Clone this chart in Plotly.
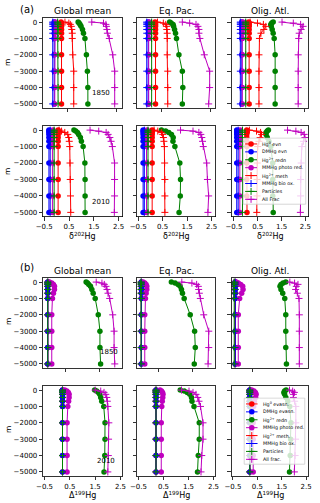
import plotly.graph_objects as go

W, H = 320, 503

# ---------------- data ----------------
depth_m = [0, -60, -140, -260, -450, -680, -1000, -2000, -3000, -4000, -5000]
y_ticks = [0, -1000, -2000, -3000, -4000, -5000]
y_ticktext = ["0", "\u22121000", "\u22122000", "\u22123000", "\u22124000", "\u22125000"]
x_ticks = [-0.5, 0.5, 1.5, 2.5]
x_ticktext = ["\u22120.5", "0.5", "1.5", "2.5"]
region_titles = ["Global mean", "Eq. Pac.", "Olig. Atl."]
year_labels = ["1850", "2010", "1850", "2010"]
panel_labels = ["(a)", "(b)"]
legend_a = ["Hg<sup>0</sup> evn", "DMHg evn", "Hg<sup>2+</sup> redn", "MMHg photo red.",
            "Hg<sup>2+</sup> meth", "MMHg bio ox.", "Particles", "All Frac"]
legend_b = ["Hg<sup>0</sup> evasn.", "DMHg evasn.", "Hg<sup>2+</sup> redn", "MMHg photo red.",
            "Hg<sup>2+</sup> meth.", "MMHg bio ox.", "Particles", "All frac."]

# delta202Hg, 1850
d202_1850_gm_hg0_evn = [0.37, 0.38, 0.38, 0.38, 0.38, 0.38, 0.38, 0.38, 0.38, 0.38, 0.38]
d202_1850_gm_dmhg_evn = [0.23, 0.23, 0.23, 0.23, 0.23, 0.23, 0.23, 0.23, 0.23, 0.23, 0.23]
d202_1850_gm_hg2_redn = [0.72, 0.74, 0.76, 0.78, 0.81, 0.83, 0.86, 0.89, 0.91, 0.92, 0.92]
d202_1850_gm_mmhg_photo = [0.25, 0.25, 0.24, 0.24, 0.24, 0.24, 0.24, 0.24, 0.24, 0.24, 0.24]
d202_1850_gm_hg2_meth = [0.45, 0.53, 0.56, 0.58, 0.59, 0.60, 0.60, 0.61, 0.63, 0.63, 0.63]
d202_1850_gm_mmhg_biox = [0.20, 0.20, 0.20, 0.20, 0.20, 0.20, 0.20, 0.20, 0.20, 0.20, 0.20]
d202_1850_gm_particles = [0.30, 0.30, 0.31, 0.31, 0.31, 0.31, 0.31, 0.31, 0.31, 0.31, 0.31]
d202_1850_gm_all_frac = [1.00, 1.24, 1.29, 1.30, 1.31, 1.32, 1.36, 1.43, 1.47, 1.47, 1.47]

d202_1850_ep_hg0_evn = [0.37, 0.38, 0.38, 0.38, 0.38, 0.38, 0.38, 0.38, 0.38, 0.38, 0.38]
d202_1850_ep_dmhg_evn = [0.23, 0.23, 0.23, 0.23, 0.23, 0.23, 0.23, 0.23, 0.23, 0.23, 0.23]
d202_1850_ep_hg2_redn = [0.67, 0.70, 0.74, 0.75, 0.77, 0.79, 0.81, 0.86, 0.93, 0.94, 0.93]
d202_1850_ep_mmhg_photo = [0.25, 0.24, 0.24, 0.24, 0.24, 0.24, 0.24, 0.24, 0.24, 0.24, 0.24]
d202_1850_ep_hg2_meth = [0.42, 0.54, 0.59, 0.61, 0.61, 0.62, 0.62, 0.62, 0.63, 0.63, 0.63]
d202_1850_ep_mmhg_biox = [0.20, 0.20, 0.20, 0.20, 0.20, 0.20, 0.20, 0.20, 0.20, 0.20, 0.20]
d202_1850_ep_particles = [0.30, 0.30, 0.30, 0.30, 0.30, 0.30, 0.30, 0.30, 0.30, 0.30, 0.30]
d202_1850_ep_all_frac = [0.93, 1.08, 1.21, 1.25, 1.27, 1.27, 1.29, 1.38, 1.49, 1.49, 1.47]

d202_1850_oa_hg0_evn = [0.36, 0.37, 0.37, 0.37, 0.37, 0.37, 0.37, 0.37, 0.37, 0.37, 0.37]
d202_1850_oa_dmhg_evn = [0.22, 0.22, 0.22, 0.22, 0.22, 0.22, 0.22, 0.22, 0.22, 0.22, 0.22]
d202_1850_oa_hg2_redn = [0.86, 0.83, 0.81, 0.82, 0.84, 0.86, 0.88, 0.90, 0.90, 0.90, 0.90]
d202_1850_oa_mmhg_photo = [0.24, 0.23, 0.23, 0.23, 0.23, 0.23, 0.23, 0.23, 0.23, 0.23, 0.23]
d202_1850_oa_hg2_meth = [0.39, 0.54, 0.66, 0.71, 0.67, 0.61, 0.58, 0.57, 0.57, 0.57, 0.57]
d202_1850_oa_mmhg_biox = [0.19, 0.19, 0.19, 0.19, 0.19, 0.19, 0.19, 0.19, 0.19, 0.19, 0.19]
d202_1850_oa_particles = [0.30, 0.30, 0.30, 0.30, 0.30, 0.30, 0.30, 0.30, 0.30, 0.30, 0.30]
d202_1850_oa_all_frac = [1.04, 1.27, 1.42, 1.47, 1.43, 1.39, 1.38, 1.37, 1.37, 1.37, 1.37]

# delta202Hg, 2010
d202_2010_gm_hg0_evn = [0.06, 0.06, 0.06, 0.06, 0.06, 0.06, 0.06, 0.06, 0.06, 0.06, 0.06]
d202_2010_gm_dmhg_evn = [-0.31, -0.31, -0.31, -0.31, -0.31, -0.31, -0.31, -0.31, -0.31, -0.31, -0.31]
d202_2010_gm_hg2_redn = [0.70, 0.77, 0.84, 0.89, 0.96, 1.00, 1.07, 1.14, 1.15, 1.15, 1.15]
d202_2010_gm_mmhg_photo = [-0.15, -0.16, -0.17, -0.17, -0.17, -0.17, -0.17, -0.17, -0.17, -0.17, -0.17]
d202_2010_gm_hg2_meth = [0.10, 0.20, 0.33, 0.45, 0.49, 0.51, 0.53, 0.54, 0.55, 0.56, 0.57]
d202_2010_gm_mmhg_biox = [-0.26, -0.26, -0.26, -0.26, -0.26, -0.26, -0.26, -0.26, -0.26, -0.26, -0.26]
d202_2010_gm_particles = [-0.10, -0.10, -0.10, -0.10, -0.10, -0.10, -0.10, -0.10, -0.10, -0.10, -0.10]
d202_2010_gm_all_frac = [1.35, 1.70, 2.00, 2.08, 2.15, 2.20, 2.25, 2.34, 2.34, 2.34, 2.33]

d202_2010_ep_hg0_evn = [0.07, 0.07, 0.07, 0.07, 0.07, 0.07, 0.07, 0.07, 0.07, 0.07, 0.07]
d202_2010_ep_dmhg_evn = [-0.30, -0.30, -0.30, -0.30, -0.30, -0.30, -0.30, -0.30, -0.30, -0.30, -0.30]
d202_2010_ep_hg2_redn = [0.45, 0.62, 0.75, 0.86, 0.93, 0.92, 1.00, 1.20, 1.23, 1.22, 1.17]
d202_2010_ep_mmhg_photo = [-0.14, -0.15, -0.16, -0.16, -0.16, -0.16, -0.16, -0.16, -0.16, -0.16, -0.16]
d202_2010_ep_hg2_meth = [0.15, 0.30, 0.45, 0.50, 0.53, 0.55, 0.57, 0.58, 0.59, 0.59, 0.59]
d202_2010_ep_mmhg_biox = [-0.25, -0.25, -0.25, -0.25, -0.25, -0.25, -0.25, -0.25, -0.25, -0.25, -0.25]
d202_2010_ep_particles = [-0.10, -0.10, -0.10, -0.10, -0.10, -0.10, -0.10, -0.10, -0.10, -0.10, -0.10]
d202_2010_ep_all_frac = [1.23, 1.74, 1.98, 2.06, 2.10, 2.13, 2.16, 2.30, 2.33, 2.38, 2.35]

d202_2010_oa_hg0_evn = [0.04, 0.04, 0.04, 0.04, 0.04, 0.04, 0.04, 0.04, 0.04, 0.04, 0.05]
d202_2010_oa_dmhg_evn = [-0.38, -0.38, -0.38, -0.38, -0.38, -0.38, -0.38, -0.38, -0.38, -0.38, -0.38]
d202_2010_oa_hg2_redn = [0.95, 0.90, 0.85, 0.85, 0.90, 0.97, 1.05, 1.13, 1.13, 1.13, 1.15]
d202_2010_oa_mmhg_photo = [-0.24, -0.25, -0.25, -0.25, -0.25, -0.25, -0.25, -0.25, -0.25, -0.25, -0.25]
d202_2010_oa_hg2_meth = [0.15, 0.45, 0.62, 0.66, 0.60, 0.55, 0.50, 0.48, 0.47, 0.47, 0.46]
d202_2010_oa_mmhg_biox = [-0.32, -0.32, -0.32, -0.32, -0.32, -0.32, -0.32, -0.32, -0.32, -0.32, -0.32]
d202_2010_oa_particles = [-0.14, -0.14, -0.14, -0.14, -0.14, -0.14, -0.14, -0.14, -0.14, -0.14, -0.14]
d202_2010_oa_all_frac = [1.75, 2.10, 2.32, 2.45, 2.48, 2.42, 2.35, 2.32, 2.30, 2.30, 2.29]

# Delta199Hg, 1850
D199_1850_gm_hg0_evn = [-0.04, -0.04, -0.04, -0.04, -0.04, -0.04, -0.04, -0.04, -0.04, -0.04, -0.04]
D199_1850_gm_dmhg_evn = [-0.04, -0.04, -0.04, -0.04, -0.04, -0.04, -0.04, -0.04, -0.04, -0.04, -0.04]
D199_1850_gm_hg2_redn = [1.10, 1.14, 1.18, 1.23, 1.27, 1.31, 1.37, 1.46, 1.51, 1.51, 1.53]
D199_1850_gm_mmhg_photo = [0.01, 0.08, 0.13, 0.16, 0.16, 0.13, 0.10, 0.08, 0.08, 0.08, 0.08]
D199_1850_gm_hg2_meth = [-0.04, -0.04, -0.04, -0.04, -0.04, -0.04, -0.04, -0.04, -0.04, -0.04, -0.04]
D199_1850_gm_mmhg_biox = [-0.04, -0.04, -0.04, -0.04, -0.04, -0.04, -0.04, -0.04, -0.04, -0.04, -0.04]
D199_1850_gm_particles = [-0.04, -0.04, -0.04, -0.04, -0.04, -0.04, -0.04, -0.04, -0.04, -0.04, -0.04]
D199_1850_gm_all_frac = [1.40, 1.57, 1.64, 1.69, 1.72, 1.75, 1.80, 1.89, 1.93, 1.93, 1.95]

D199_1850_ep_hg0_evn = [-0.02, -0.02, -0.02, -0.02, -0.02, -0.02, -0.02, -0.02, -0.02, -0.02, -0.02]
D199_1850_ep_dmhg_evn = [-0.02, -0.02, -0.02, -0.02, -0.02, -0.02, -0.02, -0.02, -0.02, -0.02, -0.02]
D199_1850_ep_hg2_redn = [0.87, 0.98, 1.07, 1.13, 1.17, 1.20, 1.25, 1.43, 1.56, 1.58, 1.55]
D199_1850_ep_mmhg_photo = [0.03, 0.08, 0.12, 0.14, 0.14, 0.12, 0.10, 0.08, 0.08, 0.08, 0.08]
D199_1850_ep_hg2_meth = [-0.02, -0.02, -0.02, -0.02, -0.02, -0.02, -0.02, -0.02, -0.02, -0.02, -0.02]
D199_1850_ep_mmhg_biox = [-0.02, -0.02, -0.02, -0.02, -0.02, -0.02, -0.02, -0.02, -0.02, -0.02, -0.02]
D199_1850_ep_particles = [-0.03, -0.03, -0.03, -0.03, -0.03, -0.03, -0.03, -0.03, -0.03, -0.03, -0.03]
D199_1850_ep_all_frac = [1.18, 1.48, 1.62, 1.67, 1.68, 1.70, 1.73, 1.83, 1.98, 1.98, 1.96]

D199_1850_oa_hg0_evn = [-0.01, -0.01, -0.01, -0.01, -0.01, -0.01, -0.01, -0.01, -0.01, -0.01, -0.01]
D199_1850_oa_dmhg_evn = [-0.01, -0.01, -0.01, -0.01, -0.01, -0.01, -0.01, -0.01, -0.01, -0.01, -0.01]
D199_1850_oa_hg2_redn = [1.48, 1.40, 1.34, 1.31, 1.34, 1.39, 1.45, 1.48, 1.48, 1.48, 1.50]
D199_1850_oa_mmhg_photo = [0.02, 0.08, 0.15, 0.21, 0.22, 0.18, 0.12, 0.08, 0.08, 0.08, 0.08]
D199_1850_oa_hg2_meth = [-0.01, -0.01, -0.01, -0.01, -0.01, -0.01, -0.01, -0.01, -0.01, -0.01, -0.01]
D199_1850_oa_mmhg_biox = [-0.01, -0.01, -0.01, -0.01, -0.01, -0.01, -0.01, -0.01, -0.01, -0.01, -0.01]
D199_1850_oa_particles = [-0.04, -0.04, -0.04, -0.04, -0.04, -0.04, -0.04, -0.04, -0.04, -0.04, -0.04]
D199_1850_oa_all_frac = [1.60, 1.74, 1.84, 1.79, 1.77, 1.82, 1.87, 1.88, 1.88, 1.88, 1.88]

# Delta199Hg, 2010
D199_2010_gm_hg0_evn = [0.21, 0.21, 0.21, 0.21, 0.21, 0.21, 0.21, 0.21, 0.21, 0.21, 0.21]
D199_2010_gm_dmhg_evn = [0.21, 0.21, 0.21, 0.21, 0.21, 0.21, 0.21, 0.21, 0.21, 0.21, 0.21]
D199_2010_gm_hg2_redn = [1.48, 1.56, 1.63, 1.68, 1.72, 1.76, 1.84, 1.89, 1.89, 1.88, 1.85]
D199_2010_gm_mmhg_photo = [0.30, 0.38, 0.44, 0.47, 0.47, 0.45, 0.42, 0.39, 0.39, 0.39, 0.39]
D199_2010_gm_hg2_meth = [0.21, 0.21, 0.21, 0.21, 0.21, 0.21, 0.21, 0.21, 0.21, 0.21, 0.21]
D199_2010_gm_mmhg_biox = [0.21, 0.21, 0.21, 0.21, 0.21, 0.21, 0.21, 0.21, 0.21, 0.21, 0.21]
D199_2010_gm_particles = [0.21, 0.21, 0.21, 0.21, 0.21, 0.21, 0.21, 0.21, 0.21, 0.21, 0.21]
D199_2010_gm_all_frac = [1.50, 1.72, 1.85, 1.92, 1.96, 1.98, 2.00, 2.04, 2.03, 2.02, 2.00]

D199_2010_ep_hg0_evn = [0.20, 0.20, 0.20, 0.20, 0.20, 0.20, 0.20, 0.20, 0.20, 0.20, 0.20]
D199_2010_ep_dmhg_evn = [0.20, 0.20, 0.20, 0.20, 0.20, 0.20, 0.20, 0.20, 0.20, 0.20, 0.20]
D199_2010_ep_hg2_redn = [1.17, 1.33, 1.45, 1.55, 1.62, 1.64, 1.72, 1.93, 1.93, 1.89, 1.86]
D199_2010_ep_mmhg_photo = [0.36, 0.42, 0.46, 0.48, 0.47, 0.45, 0.43, 0.41, 0.41, 0.41, 0.41]
D199_2010_ep_hg2_meth = [0.20, 0.20, 0.20, 0.20, 0.20, 0.20, 0.20, 0.20, 0.20, 0.20, 0.20]
D199_2010_ep_mmhg_biox = [0.20, 0.20, 0.20, 0.20, 0.20, 0.20, 0.20, 0.20, 0.20, 0.20, 0.20]
D199_2010_ep_particles = [0.20, 0.20, 0.20, 0.20, 0.20, 0.20, 0.20, 0.20, 0.20, 0.20, 0.20]
D199_2010_ep_all_frac = [1.22, 1.52, 1.68, 1.80, 1.87, 1.92, 1.98, 2.08, 2.08, 2.03, 2.00]

D199_2010_oa_hg0_evn = [0.19, 0.19, 0.19, 0.19, 0.19, 0.19, 0.19, 0.19, 0.19, 0.19, 0.19]
D199_2010_oa_dmhg_evn = [0.19, 0.19, 0.19, 0.19, 0.19, 0.19, 0.19, 0.19, 0.19, 0.19, 0.19]
D199_2010_oa_hg2_redn = [1.68, 1.62, 1.59, 1.62, 1.67, 1.75, 1.83, 1.88, 1.87, 1.85, 1.82]
D199_2010_oa_mmhg_photo = [0.27, 0.36, 0.42, 0.45, 0.43, 0.38, 0.35, 0.33, 0.33, 0.33, 0.33]
D199_2010_oa_hg2_meth = [0.19, 0.19, 0.19, 0.19, 0.19, 0.19, 0.19, 0.19, 0.19, 0.19, 0.19]
D199_2010_oa_mmhg_biox = [0.19, 0.19, 0.19, 0.19, 0.19, 0.19, 0.19, 0.19, 0.19, 0.19, 0.19]
D199_2010_oa_particles = [0.19, 0.19, 0.19, 0.19, 0.19, 0.19, 0.19, 0.19, 0.19, 0.19, 0.19]
D199_2010_oa_all_frac = [1.82, 1.95, 2.02, 1.98, 1.98, 2.03, 2.08, 2.08, 2.07, 2.05, 2.02]

# ---------------- styles / layout ----------------
series_colors = ["#ff0000", "#0000ff", "#008000", "#bf00bf",
                 "#ff0000", "#0000ff", "#008000", "#bf00bf"]
series_symbols = ["circle", "circle", "circle", "circle",
                  "cross-thin", "cross-thin", "cross-thin", "cross-thin"]

g = globals()
keys = ["hg0_evn", "dmhg_evn", "hg2_redn", "mmhg_photo",
        "hg2_meth", "mmhg_biox", "particles", "all_frac"]
row_prefix = ["d202_1850", "d202_2010", "D199_1850", "D199_2010"]
col_prefix = ["gm", "ep", "oa"]

col_px = [(43, 122.5), (137, 215.5), (231.5, 308.5)]
row_px = [(18, 108), (126, 216.5), (278, 368), (386, 476)]
x_ranges = [
    [[0.0, 1.63], [0.0, 1.61], [0.01, 1.58]],
    [[-0.55, 2.66], [-0.55, 2.66], [-0.6, 2.63]],
    [[-0.18, 2.18], [-0.15, 2.18], [-0.12, 2.15]],
    [[-0.56, 2.58], [-0.56, 2.58], [-0.56, 2.6]],
]
FONT = "DejaVu Sans"
CIRCLE_SIZE = 5.5
PLUS_SIZE = 5


def px_x(p):
    return p / W


def px_y(p):
    return 1 - p / H


fig = go.Figure()
layout = dict(
    template="none",
    width=W, height=H, margin=dict(l=0, r=0, t=0, b=0, pad=0, autoexpand=False),
    paper_bgcolor="white", plot_bgcolor="rgba(0,0,0,0)",
    showlegend=False, font=dict(family=FONT, color="black"),
)
annotations = []

for r in range(4):
    for c in range(3):
        k = r * 3 + c + 1
        xa = "xaxis" if k == 1 else f"xaxis{k}"
        ya = "yaxis" if k == 1 else f"yaxis{k}"
        xr = "x" if k == 1 else f"x{k}"
        yr = "y" if k == 1 else f"y{k}"
        for i, key in enumerate(keys):
            vals = g[f"{row_prefix[r]}_{col_prefix[c]}_{key}"]
            col = series_colors[i]
            circ = series_symbols[i] == "circle"
            fig.add_trace(go.Scatter(
                x=vals, y=depth_m, xaxis=xr, yaxis=yr, mode="lines+markers",
                line=dict(color=col, width=1),
                marker=dict(symbol=series_symbols[i], size=CIRCLE_SIZE if circ else PLUS_SIZE,
                            color=col, line=dict(color=col, width=0 if circ else 1)),
                hoverinfo="skip", showlegend=False,
            ))
        layout[xa] = dict(
            domain=[px_x(col_px[c][0]), px_x(col_px[c][1])], range=x_ranges[r][c],
            anchor=yr, tickvals=x_ticks, ticktext=x_ticktext, automargin=False,
            showticklabels=(r in (1, 3)), ticks="outside", ticklen=3.5, tickwidth=0.8,
            tickcolor="black", showline=True, linecolor="black", linewidth=0.8,
            mirror=True, showgrid=False, zeroline=False,
            tickfont=dict(size=7, family=FONT, color="black"), fixedrange=True,
        )
        layout[ya] = dict(
            domain=[px_y(row_px[r][1]), px_y(row_px[r][0])], range=[-5250, 250],
            anchor=xr, tickvals=y_ticks, ticktext=y_ticktext, automargin=False,
            showticklabels=(c == 0), ticks="outside", ticklen=3.5, tickwidth=0.8,
            tickcolor="black", showline=True, linecolor="black", linewidth=0.8,
            mirror=True, showgrid=False, zeroline=False,
            tickfont=dict(size=7, family=FONT, color="black"), fixedrange=True,
        )

# titles, panel labels, axis labels
for p, title_y in enumerate([11, 271]):
    for c in range(3):
        annotations.append(dict(
            text=region_titles[c], xref="paper", yref="paper",
            x=px_x((col_px[c][0] + col_px[c][1]) / 2), y=px_y(title_y),
            xanchor="center", yanchor="middle", showarrow=False,
            font=dict(size=9, family=FONT, color="black")))
    annotations.append(dict(
        text=panel_labels[p], xref="paper", yref="paper",
        x=px_x(27), y=px_y([9, 267][p]), xanchor="center", yanchor="middle",
        showarrow=False, font=dict(size=10, family=FONT, color="black")))
    for c in range(3):
        annotations.append(dict(
            text=["\u03b4<sup>202</sup>Hg", "\u0394<sup>199</sup>Hg"][p],
            xref="paper", yref="paper",
            x=px_x((col_px[c][0] + col_px[c][1]) / 2), y=px_y([236, 495][p]),
            xanchor="center", yanchor="middle", showarrow=False,
            font=dict(size=8, family=FONT, color="black")))

for r, yc in enumerate([63, 172, 322, 430]):
    annotations.append(dict(
        text="m", xref="paper", yref="paper", x=px_x(8), y=px_y(yc),
        xanchor="center", yanchor="middle", textangle=-90, showarrow=False,
        font=dict(size=7.5, family=FONT, color="black")))

# year labels (data coordinates of the first column)
year_pos = [(1.18, -4330), (1.81, -4390), (1.78, -4250), (1.91, -4330)]
for r in range(4):
    k = r * 3 + 1
    annotations.append(dict(
        text=year_labels[r], xref="x" if k == 1 else f"x{k}", yref="y" if k == 1 else f"y{k}",
        x=year_pos[r][0], y=year_pos[r][1], xanchor="center", yanchor="middle",
        showarrow=False, font=dict(size=7, family=FONT, color="black")))

# hand-made legends (overlay axes inside the Olig. Atl. panels)
legend_boxes = [((242, 307), (137.3, 205)), ((243, 306), (397.3, 465))]
for li, (labels, box) in enumerate([(legend_a, legend_boxes[0]), (legend_b, legend_boxes[1])]):
    k = 13 + li
    xr, yr = f"x{k}", f"y{k}"
    (bx0, bx1), (by0, by1) = box
    n = len(labels)
    top_pad = 6.0
    step = (by1 - by0 - 2 * top_pad + 1.0) / (n - 1)
    y_top = -top_pad / step
    y_bot = (n - 1) + (by1 - by0 - top_pad - (n - 1) * step) / step
    layout[f"xaxis{k}"] = dict(domain=[px_x(bx0), px_x(bx1)], range=[-0.02, 1.02],
                               visible=False, anchor=yr, fixedrange=True, automargin=False)
    layout[f"yaxis{k}"] = dict(domain=[px_y(by1), px_y(by0)], range=[y_bot + 0.1, y_top - 0.1],
                               visible=False, anchor=xr, fixedrange=True, automargin=False)
    fig.add_trace(go.Scatter(
        x=[0, 1, 1, 0, 0], y=[y_bot, y_bot, y_top, y_top, y_bot], xaxis=xr, yaxis=yr,
        mode="lines", fill="toself", fillcolor="rgba(255,255,255,0.8)",
        line=dict(color="#cccccc", width=0.8), hoverinfo="skip", showlegend=False))
    for i, lab in enumerate(labels):
        col = series_colors[i]
        circ = series_symbols[i] == "circle"
        fig.add_trace(go.Scatter(
            x=[0.03, 0.22], y=[i, i], xaxis=xr, yaxis=yr, mode="lines",
            line=dict(color=col, width=1), hoverinfo="skip", showlegend=False))
        fig.add_trace(go.Scatter(
            x=[0.125], y=[i], xaxis=xr, yaxis=yr, mode="markers",
            marker=dict(symbol=series_symbols[i], size=CIRCLE_SIZE if circ else PLUS_SIZE,
                        color=col, line=dict(color=col, width=0 if circ else 1)),
            hoverinfo="skip", showlegend=False))
        annotations.append(dict(
            text=lab, xref=xr, yref=yr, x=0.27, y=i, xanchor="left", yanchor="middle",
            showarrow=False, font=dict(size=4.8, family=FONT, color="black")))

layout["annotations"] = annotations
fig.update_layout(**layout)
fig.write_html(
    "out.html",
    config={"displayModeBar": False, "staticPlot": True},
    post_script="document.body.style.margin='0px';document.body.style.padding='0px';",
)
